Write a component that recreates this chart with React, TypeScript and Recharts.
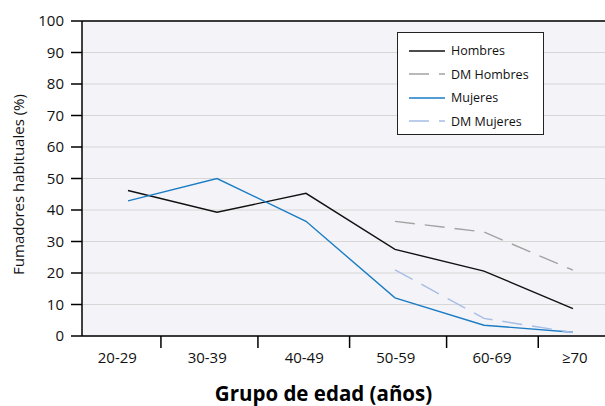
import { CartesianGrid, Legend, Line, LineChart, ReferenceLine, XAxis, YAxis } from "recharts";

// Categories and values.
const categories = ["20-29", "30-39", "40-49", "50-59", "60-69", "≥70"];
const hombres = [46.2, 39.3, 45.3, 27.5, 20.6, 8.7];
const mujeres = [42.9, 50, 36.4, 12.1, 3.4, 1.2];
const dmHombres = [null, null, null, 36.4, 33, 20.9];
const dmMujeres = [null, null, null, 21, 5.6, 1.1];

// The original axis puts its labels and band marks slightly off the points,
// so both are given in category-index units on the same numeric scale.
const labelPositions = [-0.12, 0.89, 1.98, 3.01, 4.09, 5.02];
const bandEdges = [0.37, 1.46, 2.49, 3.58, 4.61];
const yTicks = [0, 10, 20, 30, 40, 50, 60, 70, 80, 90, 100];

const FONT = "'Open Sans', 'Noto Sans', sans-serif";

type Series = { key: string; name: string; color: string; dash?: string };

const seriesList: Series[] = [
  { key: "hombres", name: "Hombres", color: "#111111" },
  { key: "dmHombres", name: "DM Hombres", color: "#a3a3a3", dash: "20 10" },
  { key: "mujeres", name: "Mujeres", color: "#1b7cc4" },
  { key: "dmMujeres", name: "DM Mujeres", color: "#a6bde6", dash: "20 10" },
];

const data = categories.map((cat, i) => ({
  idx: i,
  cat,
  hombres: hombres[i],
  mujeres: mujeres[i],
  dmHombres: dmHombres[i],
  dmMujeres: dmMujeres[i],
}));

/** Label ticks draw text, band-edge ticks draw a short mark under the axis. */
function XTick(props: any) {
  const { x, y, payload } = props;
  const li = labelPositions.indexOf(payload.value);
  if (li >= 0) {
    return (
      <text x={x} y={y + 15} textAnchor="middle" fontSize={15} fontFamily={FONT} fill="#111">
        {categories[li]}
      </text>
    );
  }
  return <line x1={x} x2={x} y1={y - 12} y2={y} stroke="#000" strokeWidth={1.5} />;
}

function LegendBox() {
  return (
    <div
      style={{
        boxSizing: "border-box",
        width: 147,
        height: 103,
        border: "1.5px solid #222",
        background: "#fff",
        padding: "6px 0 0 11px",
        fontFamily: FONT,
        fontSize: 12.5,
        color: "#111",
      }}
    >
      {seriesList.map((s) => (
        <div key={s.key} style={{ display: "flex", alignItems: "center", height: 23.5 }}>
          <svg width={38} height={4} style={{ marginRight: 4 }}>
            <line
              x1={0}
              x2={36}
              y1={2}
              y2={2}
              stroke={s.color}
              strokeWidth={1.6}
              strokeDasharray={s.dash}
            />
          </svg>
          <span>{s.name}</span>
        </div>
      ))}
    </div>
  );
}

export default function App() {
  return (
    <div style={{ position: "absolute", left: 0, top: 0, background: "#fff" }}>
      <LineChart
        width={605}
        height={406}
        data={data}
        margin={{ top: 21, right: 0, bottom: 0, left: 0 }}
      >
        <CartesianGrid vertical={false} stroke="#d6d6d6" strokeWidth={1.2} fill="#f4f4f8" />
        <XAxis
          type="number"
          dataKey="idx"
          domain={[-0.517, 5.36]}
          ticks={[...labelPositions, ...bandEdges]}
          interval={0}
          allowDataOverflow
          tick={<XTick />}
          tickLine={false}
          tickSize={12}
          tickMargin={0}
          height={70}
          axisLine={{ stroke: "#000", strokeWidth: 1.5 }}
          label={(p: any) => {
            const vb = p.viewBox;
            return (
              <text
                x={vb.x + vb.width / 2 - 20}
                y={401}
                textAnchor="middle"
                fontSize={20.5}
                fontWeight="bold"
                fontFamily={FONT}
                fill="#000"
              >
                Grupo de edad (años)
              </text>
            );
          }}
        />
        <YAxis
          domain={[0, 100]}
          ticks={yTicks}
          interval={0}
          width={82}
          tickSize={11}
          tickMargin={7}
          tick={{ fill: "#111", fontSize: 15, fontFamily: FONT }}
          tickLine={{ stroke: "#000", strokeWidth: 1.5 }}
          axisLine={{ stroke: "#000", strokeWidth: 1.5 }}
          label={(p: any) => {
            const vb = p.viewBox;
            const cy = vb.y + vb.height / 2 + 6;
            return (
              <text
                x={18}
                y={cy}
                transform={`rotate(-90 18 ${cy})`}
                textAnchor="middle"
                dominantBaseline="central"
                fontSize={15}
                fontFamily={FONT}
                fill="#111"
              >
                Fumadores habituales (%)
              </text>
            );
          }}
        />
        <ReferenceLine y={100} stroke="#000" strokeWidth={1.5} />
        <Legend
          layout="vertical"
          align="center"
          verticalAlign="middle"
          content={<LegendBox />}
          wrapperStyle={{ position: "absolute", left: 397, top: 32, width: 147, height: 103 }}
        />
        {seriesList.map((s) => (
          <Line
            key={s.key}
            type="linear"
            dataKey={s.key}
            name={s.name}
            stroke={s.color}
            strokeWidth={1.4}
            strokeDasharray={s.dash}
            dot={false}
            activeDot={false}
            connectNulls={false}
            isAnimationActive={false}
          />
        ))}
      </LineChart>
    </div>
  );
}
